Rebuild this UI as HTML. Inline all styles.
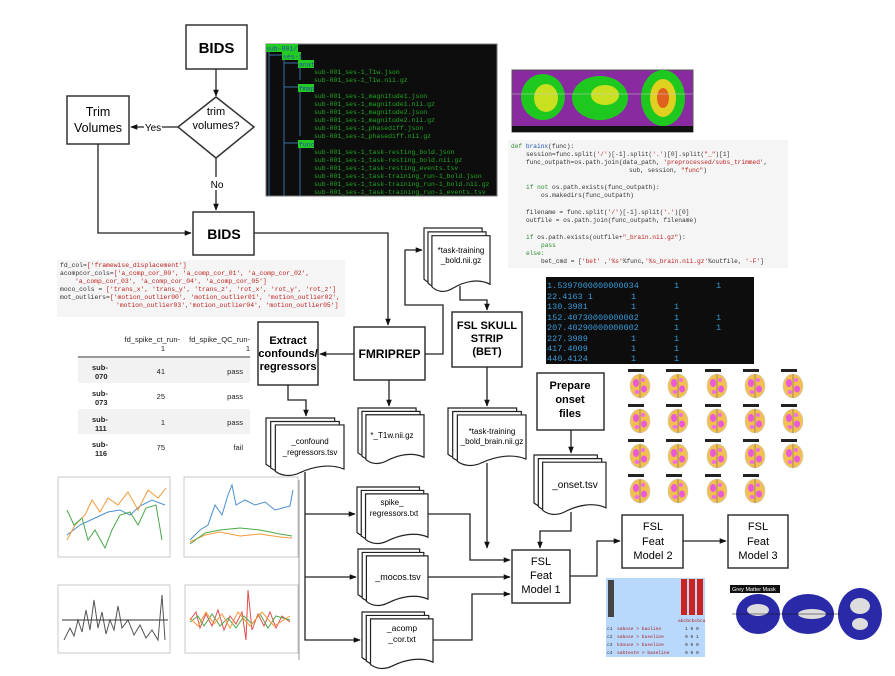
<!DOCTYPE html>
<html><head><meta charset="utf-8">
<style>
html,body{margin:0;padding:0;background:#fff;}
svg{display:block;}
text{font-family:"Liberation Sans",Arial,sans-serif;}
.mono text,text.mono{font-family:"Liberation Mono",monospace;}
.b{fill:#fff;stroke:#333;stroke-width:1.5;}
.ln{fill:none;stroke:#222;stroke-width:1.3;}
.pg{fill:#fff;stroke:#222;stroke-width:1.2;vector-effect:non-scaling-stroke;}
</style></head><body>
<svg width="895" height="676" viewBox="0 0 895 676" xmlns="http://www.w3.org/2000/svg">
<defs>
<marker id="a" viewBox="0 0 10 10" refX="9" refY="5" markerWidth="7" markerHeight="7" orient="auto-start-reverse" markerUnits="userSpaceOnUse"><path d="M0,1 L10,5 L0,9 z" fill="#111"/></marker>
<g id="doc">
<path class="pg" d="M0,0 H88 V76 C70,66 48,72 32,82 C20,90 8,88 0,80 Z"/>
<path class="pg" d="M6,6 H94 V82 C76,72 54,78 38,88 C26,96 14,94 6,86 Z"/>
<path class="pg" d="M12,12 H100 V88 C82,78 60,84 44,94 C32,102 20,100 12,92 Z"/>
</g>
<g id="br">
<ellipse cx="0" cy="1" rx="10" ry="12" fill="#f2c050" stroke="#ccc" stroke-width="0.6"/>
<ellipse cx="-4" cy="-2" rx="3" ry="4" fill="#ea5ad8"/><ellipse cx="4" cy="4" rx="3" ry="3.5" fill="#ea5ad8"/><ellipse cx="-3" cy="7" rx="2.5" ry="2" fill="#f070e0"/><ellipse cx="3" cy="-5" rx="2" ry="2" fill="#f070e0"/>
<line x1="0" y1="-11" x2="0" y2="13" stroke="#555" stroke-width="0.5"/>
<rect x="-12" y="-16" width="16" height="3" fill="#222"/>
</g>
</defs>

<rect class="b" x="186" y="25" width="61" height="44"/>
<text x="216.5" y="53" text-anchor="middle" font-size="15" font-weight="bold">BIDS</text>
<line class="ln" x1="216" y1="69" x2="216" y2="96" marker-end="url(#a)"/>
<path class="b" d="M216,97 L254,127 L216,158 L178,127 Z"/>
<text x="216" y="115" text-anchor="middle" font-size="11">trim</text>
<text x="216" y="129" text-anchor="middle" font-size="11">volumes?</text>
<rect class="b" x="67" y="96" width="62" height="48"/>
<text x="98" y="116" text-anchor="middle" font-size="12.5">Trim</text>
<text x="98" y="132" text-anchor="middle" font-size="12.5">Volumes</text>
<line class="ln" x1="178" y1="127" x2="131" y2="127" marker-end="url(#a)"/>
<rect x="144" y="120" width="18" height="13" fill="#fff"/>
<text x="153" y="131" text-anchor="middle" font-size="10">Yes</text>
<line class="ln" x1="216" y1="158" x2="216" y2="210" marker-end="url(#a)"/>
<rect x="209" y="177" width="15" height="13" fill="#fff"/>
<text x="217" y="188" text-anchor="middle" font-size="10">No</text>
<rect class="b" x="193" y="212" width="61" height="43"/>
<text x="224" y="239" text-anchor="middle" font-size="14" font-weight="bold">BIDS</text>
<polyline class="ln" points="98,144 98,233 191,233" marker-end="url(#a)"/>
<polyline class="ln" points="254,233 388,233 388,325" marker-end="url(#a)"/>

<rect x="266" y="44" width="231" height="152" fill="#0d0d0d" stroke="#777"/>
<g fill="none" stroke="#3a6ea5" stroke-width="1">
<line x1="269" y1="52" x2="269" y2="196"/><line x1="269" y1="55" x2="283" y2="55"/>
<line x1="284" y1="59" x2="284" y2="196"/>
<line x1="284" y1="63" x2="298" y2="63"/><line x1="284" y1="87" x2="298" y2="87"/><line x1="284" y1="143" x2="298" y2="143"/>
<line x1="300" y1="67" x2="300" y2="80"/><line x1="300" y1="91" x2="300" y2="136"/><line x1="300" y1="147" x2="300" y2="196"/>
</g>
<g fill="#22cc22"><rect x="266" y="44" width="32" height="8"/><rect x="282" y="52" width="19" height="8"/><rect x="298" y="60" width="16" height="8"/><rect x="298" y="84" width="16" height="8"/><rect x="298" y="140" width="16" height="8"/></g>
<g class="mono" font-size="6.5" fill="#1fa81f">
<text x="266" y="50.5" fill="#2244aa">sub-001/</text>
<text x="283" y="58.5" fill="#2244aa">ses-1</text>
<text x="299" y="66.5" fill="#2244aa">anat</text>
<text x="299" y="90.5" fill="#2244aa">fmap</text>
<text x="299" y="146.5" fill="#2244aa">func</text>
<text x="314" y="74">sub-001_ses-1_T1w.json</text>
<text x="314" y="82">sub-001_ses-1_T1w.nii.gz</text>
<text x="314" y="98">sub-001_ses-1_magnitude1.json</text>
<text x="314" y="106">sub-001_ses-1_magnitude1.nii.gz</text>
<text x="314" y="114">sub-001_ses-1_magnitude2.json</text>
<text x="314" y="122">sub-001_ses-1_magnitude2.nii.gz</text>
<text x="314" y="130">sub-001_ses-1_phasediff.json</text>
<text x="314" y="138">sub-001_ses-1_phasediff.nii.gz</text>
<text x="314" y="154">sub-001_ses-1_task-resting_bold.json</text>
<text x="314" y="162">sub-001_ses-1_task-resting_bold.nii.gz</text>
<text x="314" y="170">sub-001_ses-1_task-resting_events.tsv</text>
<text x="314" y="178">sub-001_ses-1_task-training_run-1_bold.json</text>
<text x="314" y="186">sub-001_ses-1_task-training_run-1_bold.nii.gz</text>
<text x="314" y="194">sub-001_ses-1_task-training_run-1_events.tsv</text>
</g>

<rect x="57" y="260" width="288" height="57" fill="#f5f5f5"/>
<g class="mono" font-size="6.4" fill="#333">
<text x="60" y="267">fd_col=<tspan fill="#b22">['framewise_displacement']</tspan></text>
<text x="60" y="275">acompcor_cols=<tspan fill="#b22">['a_comp_cor_00', 'a_comp_cor_01', 'a_comp_cor_02',</tspan></text>
<text x="75" y="283" fill="#b22">'a_comp_cor_03', 'a_comp_cor_04', 'a_comp_cor_05']</text>
<text x="60" y="291">moco_cols = <tspan fill="#b22">['trans_x', 'trans_y', 'trans_z', 'rot_x', 'rot_y', 'rot_z']</tspan></text>
<text x="60" y="299">mot_outliers=<tspan fill="#b22">['motion_outlier00', 'motion_outlier01', 'motion_outlier02',</tspan></text>
<text x="116" y="307" fill="#b22">'motion_outlier03','motion_outlier04', 'motion_outlier05']</text>
</g>

<g font-size="7.5" fill="#222">
<text x="180" y="342" text-anchor="end">fd_spike_ct_run-</text><text x="165" y="351" text-anchor="end">1</text>
<text x="250" y="342" text-anchor="end">fd_spike_QC_run-</text><text x="250" y="351" text-anchor="end">1</text>
<line x1="78" y1="357" x2="250" y2="357" stroke="#333"/>
<rect x="78" y="358" width="172" height="25" fill="#f2f2f2"/>
<rect x="78" y="409" width="172" height="25" fill="#f2f2f2"/>
<g font-weight="bold"><text x="92" y="370">sub-</text><text x="95" y="379">070</text>
<text x="92" y="396">sub-</text><text x="95" y="405">073</text>
<text x="92" y="422">sub-</text><text x="95" y="431">111</text>
<text x="92" y="447">sub-</text><text x="95" y="456">116</text></g>
<text x="165" y="374" text-anchor="end">41</text><text x="243" y="374" text-anchor="end">pass</text>
<text x="165" y="399" text-anchor="end">25</text><text x="243" y="399" text-anchor="end">pass</text>
<text x="165" y="425" text-anchor="end">1</text><text x="243" y="425" text-anchor="end">pass</text>
<text x="165" y="450" text-anchor="end">75</text><text x="243" y="450" text-anchor="end">fail</text>
</g>

<g fill="#fff" stroke="#bbb" stroke-width="0.8">
<rect x="58" y="477" width="112" height="80"/><rect x="184" y="477" width="114" height="80"/>
<rect x="58" y="585" width="112" height="68"/><rect x="185" y="585" width="113" height="68"/>
</g>
<line x1="299" y1="480" x2="299" y2="660" stroke="#999"/>
<g fill="none" stroke-width="1">
<polyline stroke="#4a90d0" points="67,535 80,525 95,518 108,512 120,510 130,515 140,506 152,500 165,505"/>
<polyline stroke="#f39a3a" points="67,540 75,525 85,515 92,500 100,512 108,498 118,505 128,492 138,510 148,490 158,498 166,488"/>
<polyline stroke="#4aa84a" points="67,510 74,525 82,518 88,540 95,530 105,548 112,530 120,515 130,512 138,525 146,508 156,505 162,540"/>
<polyline stroke="#4a90d0" points="190,540 200,530 208,525 215,505 222,515 228,495 232,485 236,505 245,500 255,505 265,502 275,510 290,506 293,490"/>
<polyline stroke="#f39a3a" points="190,542 205,535 220,532 240,536 260,534 280,537 292,538"/>
<polyline stroke="#4aa84a" points="190,544 205,533 220,530 240,528 260,530 280,534 292,536"/>
<polyline stroke="#555" points="64,640 70,628 74,636 78,620 82,632 86,610 90,630 94,600 98,628 102,612 106,634 110,620 114,630 118,606 122,628 128,620 134,635 140,625 146,638 152,630 158,640 162,595 165,640"/>
<line x1="62" y1="620" x2="168" y2="620" stroke="#333"/>
<polyline stroke="#e05050" points="190,620 196,612 200,628 206,614 212,626 218,610 224,630 230,616 236,624 242,612 246,640 248,590 252,630 258,614 264,626 270,612 276,628 282,616 290,622"/>
<polyline stroke="#4aa84a" points="190,622 198,616 204,626 212,614 220,626 228,618 236,628 244,616 252,624 260,614 268,628 276,616 290,620"/>
<polyline stroke="#f39a3a" points="190,618 198,626 206,612 214,624 222,614 230,628 238,612 250,626 262,612 274,626 290,616"/>
</g>

<rect class="b" x="258" y="322" width="60" height="63"/>
<g font-size="11" font-weight="bold" text-anchor="middle"><text x="288" y="344">Extract</text><text x="288" y="357">confounds/</text><text x="288" y="370">regressors</text></g>
<rect class="b" x="354" y="327" width="71" height="53"/>
<text x="389.5" y="358" text-anchor="middle" font-size="12" font-weight="bold">FMRIPREP</text>
<line class="ln" x1="354" y1="354" x2="320" y2="354" marker-end="url(#a)"/>
<polyline class="ln" points="425,354 443,354 443,305 405,305 405,250 422,250" marker-end="url(#a)"/>
<line class="ln" x1="389" y1="380" x2="389" y2="406" marker-end="url(#a)"/>

<use href="#doc" transform="translate(424,228) scale(0.66,0.64)"/>
<text x="461" y="253" text-anchor="middle" font-size="8">*task-training</text>
<text x="461" y="263" text-anchor="middle" font-size="8">_bold.nii.gz</text>
<polyline class="ln" points="460,286 460,300 487,300 487,310" marker-end="url(#a)"/>
<rect class="b" x="452" y="312" width="70" height="55"/>
<g font-size="11" font-weight="bold" text-anchor="middle"><text x="487" y="329">FSL SKULL</text><text x="487" y="342">STRIP</text><text x="487" y="355">(BET)</text></g>
<line class="ln" x1="487" y1="367" x2="487" y2="406" marker-end="url(#a)"/>
<use href="#doc" transform="translate(448,408) scale(0.78,0.58)"/>
<text x="492" y="434" text-anchor="middle" font-size="8">*task-training</text>
<text x="492" y="444" text-anchor="middle" font-size="8">_bold_brain.nii.gz</text>
<polyline class="ln" points="487,463 487,548" marker-end="url(#a)"/>

<use href="#doc" transform="translate(358,408) scale(0.66,0.56)"/>
<text x="392" y="438" text-anchor="middle" font-size="8">*_T1w.nii.gz</text>

<polyline class="ln" points="288,385 288,400 306,400 306,416" marker-end="url(#a)"/>
<use href="#doc" transform="translate(266,418) scale(0.78,0.58)"/>
<text x="310" y="444" text-anchor="middle" font-size="8">_confound</text>
<text x="310" y="455" text-anchor="middle" font-size="8">_regressors.tsv</text>
<polyline class="ln" points="305,472 305,640 360,640" marker-end="url(#a)"/>
<line class="ln" x1="305" y1="514" x2="355" y2="514" marker-end="url(#a)"/>
<line class="ln" x1="305" y1="577" x2="356" y2="577" marker-end="url(#a)"/>

<use href="#doc" transform="translate(357,487) scale(0.71,0.57)"/>
<text x="392" y="505" text-anchor="middle" font-size="8">spike_</text>
<text x="394" y="516" text-anchor="middle" font-size="8">regressors.txt</text>
<use href="#doc" transform="translate(358,549) scale(0.70,0.57)"/>
<text x="398" y="580" text-anchor="middle" font-size="9">_mocos.tsv</text>
<use href="#doc" transform="translate(362,612) scale(0.71,0.57)"/>
<text x="402" y="631" text-anchor="middle" font-size="8.5">_acomp</text>
<text x="402" y="642" text-anchor="middle" font-size="8.5">_cor.txt</text>

<polyline class="ln" points="428,514 470,514 470,560 510,560" marker-end="url(#a)"/>
<line class="ln" x1="428" y1="577" x2="510" y2="577" marker-end="url(#a)"/>
<polyline class="ln" points="433,640 472,640 472,594 510,594" marker-end="url(#a)"/>

<rect class="b" x="537" y="373" width="67" height="57"/>
<g font-size="11" font-weight="bold" text-anchor="middle"><text x="570" y="389">Prepare</text><text x="570" y="403">onset</text><text x="570" y="417">files</text></g>
<line class="ln" x1="571" y1="430" x2="571" y2="453" marker-end="url(#a)"/>
<use href="#doc" transform="translate(534,455) scale(0.72,0.60)"/>
<text x="575" y="488" text-anchor="middle" font-size="10">_onset.tsv</text>
<polyline class="ln" points="571,512 571,531 540,531 540,548" marker-end="url(#a)"/>

<rect class="b" x="512" y="550" width="58" height="53"/>
<g font-size="11" text-anchor="middle"><text x="541" y="565">FSL</text><text x="541" y="579">Feat</text><text x="541" y="593">Model 1</text></g>
<polyline class="ln" points="570,576 597,576 597,541 620,541" marker-end="url(#a)"/>
<rect class="b" x="622" y="515" width="61" height="53"/>
<g font-size="11" text-anchor="middle"><text x="653" y="530">FSL</text><text x="653" y="545">Feat</text><text x="653" y="559">Model 2</text></g>
<line class="ln" x1="683" y1="541" x2="726" y2="541" marker-end="url(#a)"/>
<rect class="b" x="728" y="515" width="60" height="53"/>
<g font-size="11" text-anchor="middle"><text x="758" y="530">FSL</text><text x="758" y="545">Feat</text><text x="758" y="559">Model 3</text></g>

<rect x="512" y="70" width="181" height="62" fill="#8a2aa0" stroke="#555"/>
<ellipse cx="543" cy="97" rx="22" ry="23" fill="#1ec81e"/><ellipse cx="546" cy="98" rx="12" ry="14" fill="#c8e020"/>
<ellipse cx="600" cy="98" rx="28" ry="22" fill="#1ec81e"/><ellipse cx="605" cy="95" rx="14" ry="10" fill="#c8e020"/>
<ellipse cx="663" cy="98" rx="22" ry="28" fill="#1ec81e"/><ellipse cx="663" cy="98" rx="13" ry="19" fill="#e0d020"/><ellipse cx="663" cy="98" rx="6" ry="10" fill="#e06020"/>
<rect x="512" y="126" width="181" height="6" fill="#111"/>
<line x1="512" y1="94" x2="693" y2="94" stroke="#ccc" stroke-width="0.5"/>

<rect x="508" y="140" width="280" height="128" fill="#f5f5f5"/>
<g class="mono" font-size="6.2" fill="#333">
<text x="511" y="148"><tspan fill="#2a8a2a">def</tspan> <tspan fill="#2255bb">brainx</tspan>(func):</text>
<text x="526" y="156">session=func.split(<tspan fill="#b22">'/'</tspan>)[-1].split(<tspan fill="#b22">'.'</tspan>)[0].split(<tspan fill="#b22">"_"</tspan>)[1]</text>
<text x="526" y="164">func_outpath=os.path.join(data_path, <tspan fill="#b22">'preprocessed/subs_trimmed'</tspan>,</text>
<text x="629" y="172">sub, session, <tspan fill="#b22">"func"</tspan>)</text>
<text x="526" y="189"><tspan fill="#2a8a2a">if not</tspan> os.path.exists(func_outpath):</text>
<text x="541" y="197">os.makedirs(func_outpath)</text>
<text x="526" y="214">filename = func.split(<tspan fill="#b22">'/'</tspan>)[-1].split(<tspan fill="#b22">'.'</tspan>)[0]</text>
<text x="526" y="222">outfile = os.path.join(func_outpath, filename)</text>
<text x="526" y="239"><tspan fill="#2a8a2a">if</tspan> os.path.exists(outfile+<tspan fill="#b22">"_brain.nii.gz"</tspan>):</text>
<text x="541" y="247" fill="#2a8a2a">pass</text>
<text x="526" y="255" fill="#2a8a2a">else:</text>
<text x="541" y="263">bet_cmd = [<tspan fill="#b22">'bet'</tspan> ,<tspan fill="#b22">'%s'</tspan>%func,<tspan fill="#b22">'%s_brain.nii.gz'</tspan>%outfile, <tspan fill="#b22">'-F'</tspan>]</text>
</g>

<rect x="546" y="277" width="208" height="87" fill="#0d0d0d"/>
<g class="mono" font-size="8.5" fill="#3a9ad9">
<text x="547" y="288">1.5397000000000034</text><text x="674" y="288">1</text><text x="716" y="288">1</text>
<text x="547" y="299">22.4163 1</text><text x="631" y="299">1</text>
<text x="547" y="309">130.3981</text><text x="631" y="309">1</text><text x="674" y="309">1</text>
<text x="547" y="320">152.40730000000002</text><text x="674" y="320">1</text><text x="716" y="320">1</text>
<text x="547" y="330">207.40290000000002</text><text x="674" y="330">1</text><text x="716" y="330">1</text>
<text x="547" y="341">227.3989</text><text x="631" y="341">1</text><text x="674" y="341">1</text>
<text x="547" y="351">417.4009</text><text x="631" y="351">1</text><text x="674" y="351">1</text>
<text x="547" y="361">440.4124</text><text x="631" y="361">1</text><text x="674" y="361">1</text>
</g>

<use href="#br" x="640" y="385"/><use href="#br" x="678" y="385"/><use href="#br" x="717" y="385"/><use href="#br" x="755" y="385"/><use href="#br" x="793" y="385"/>
<use href="#br" x="640" y="420"/><use href="#br" x="678" y="420"/><use href="#br" x="717" y="420"/><use href="#br" x="755" y="420"/><use href="#br" x="793" y="420"/>
<use href="#br" x="640" y="455"/><use href="#br" x="678" y="455"/><use href="#br" x="717" y="455"/><use href="#br" x="755" y="455"/><use href="#br" x="793" y="455"/>
<use href="#br" x="640" y="490"/><use href="#br" x="678" y="490"/><use href="#br" x="717" y="490"/><use href="#br" x="755" y="490"/>

<rect x="606" y="578" width="99" height="79" fill="#b8d8fc"/>
<rect x="608" y="580" width="6" height="37" fill="#444"/>
<rect x="681" y="579" width="6" height="36" fill="#c22"/><rect x="689" y="579" width="6" height="36" fill="#c22"/><rect x="697" y="579" width="6" height="36" fill="#c22"/>
<g class="mono" font-size="4.6" fill="#a22">
<text x="678" y="622">abcbcbcbca</text>
<text x="607" y="630" fill="#333">c1</text><text x="617" y="630">sabose &gt; baoline</text><text x="685" y="630" fill="#333">1 0 0</text>
<text x="607" y="638" fill="#333">c2</text><text x="617" y="638">sabose &gt; baseline</text><text x="685" y="638" fill="#333">0 0 1</text>
<text x="607" y="646" fill="#333">c3</text><text x="617" y="646">k3ouse &gt; baseline</text><text x="685" y="646" fill="#333">0 0 0</text>
<text x="607" y="654" fill="#333">c4</text><text x="617" y="654">sabteste &gt; baseline</text><text x="685" y="654" fill="#333">0 0 0</text>
</g>

<rect x="730" y="585" width="50" height="8" fill="#111"/>
<text x="732" y="591" font-size="5.5" fill="#fff">Grey Matter Mask</text>
<ellipse cx="758" cy="614" rx="22" ry="20" fill="#2a2aa8"/><ellipse cx="758" cy="610" rx="11" ry="6" fill="#ddd"/>
<ellipse cx="808" cy="614" rx="26" ry="20" fill="#2a2aa8"/><ellipse cx="812" cy="614" rx="14" ry="5" fill="#ddd"/>
<ellipse cx="860" cy="614" rx="22" ry="26" fill="#2a2aa8"/><ellipse cx="860" cy="606" rx="10" ry="8" fill="#ddd"/><ellipse cx="860" cy="624" rx="8" ry="6" fill="#ddd"/>
<line x1="732" y1="614" x2="840" y2="614" stroke="#111" stroke-width="0.6"/>
</svg>
</body></html>
